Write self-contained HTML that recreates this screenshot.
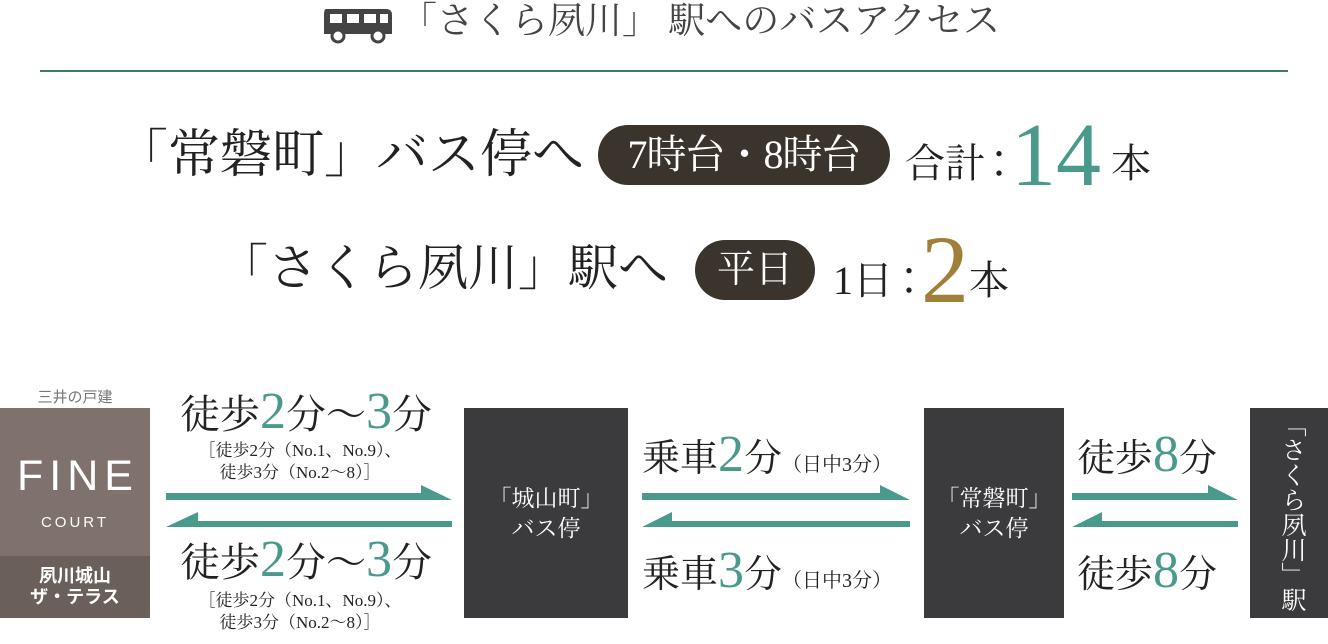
<!DOCTYPE html>
<html><head><meta charset="utf-8"><style>
body{margin:0;width:1328px;height:644px;background:#fff;position:relative;overflow:hidden;font-family:"Liberation Serif","Noto Serif CJK JP","Noto Serif CJK SC",serif;color:#222}
.a{position:absolute;white-space:nowrap}
.t{color:#4a9a8c}
.box{position:absolute;background:#3b3b3d;color:#fff;text-align:center}
</style></head><body>
<svg class="a" style="left:322px;top:6px" width="72" height="38" viewBox="0 0 72 38">
<path d="M4 3 H64 Q70 3 70 9 V28 H2 V9 Q2 3 4 3Z" fill="#444"/>
<rect x="8" y="8" width="12" height="9" fill="#fff"/><rect x="25" y="8" width="12" height="9" fill="#fff"/><rect x="42" y="8" width="12" height="9" fill="#fff"/><rect x="58" y="8" width="8" height="9" fill="#fff"/>
<circle cx="16" cy="30" r="6" fill="#fff" stroke="#444" stroke-width="3"/><circle cx="56" cy="30" r="6" fill="#fff" stroke="#444" stroke-width="3"/></svg>
<div class="a" style="left:400px;top:0px;font-size:37px;color:#444;line-height:44px">「さくら夙川」 駅へのバスアクセス</div>
<div class="a" style="left:40px;top:70px;width:1248px;height:2px;background:#3e7a66"></div>

<div class="a" style="left:116px;top:124px;font-size:52px;line-height:64px">「常磐町」バス停へ</div>
<div class="a" style="left:598px;top:125px;width:292px;height:60px;border-radius:30px;background:#3a342c;color:#fff;font-size:40px;line-height:60px;text-align:center;letter-spacing:-1px">7時台・8時台</div>
<div class="a" style="left:905px;top:124px;font-size:40px;line-height:64px">合計<span style="margin-left:-6px">：</span><span class="t" style="font-size:90px;vertical-align:-8px;margin-left:-8px">14</span> 本</div>

<div class="a" style="left:218px;top:236px;font-size:50px;line-height:64px">「さくら夙川」駅へ</div>
<div class="a" style="left:695px;top:240px;width:120px;height:60px;border-radius:30px;background:#3a342c;color:#fff;font-size:38px;line-height:60px;text-align:center">平日</div>
<div class="a" style="left:833px;top:238px;font-size:40px;line-height:64px">1日<span style="margin-left:-4px">：</span><span style="color:#a08038;font-size:96px;vertical-align:-8px;margin-left:-8px">2</span>本</div>

<div class="a" style="left:0;top:386px;width:150px;text-align:center;font-family:'Liberation Sans','Noto Sans CJK JP',sans-serif;font-size:15px;color:#777">三井の戸建</div>
<div class="a" style="left:0;top:408px;width:150px;height:148px;background:#7f716b;color:#fff;text-align:center;font-family:'Liberation Sans',sans-serif">
<div style="font-size:43px;letter-spacing:6px;margin-top:44px;line-height:48px;padding-left:6px">FINE</div>
<div style="font-size:15px;letter-spacing:3px;margin-top:14px">COURT</div></div>
<div class="a" style="left:0;top:556px;width:150px;height:62px;background:#6a5f5a;color:#fff;text-align:center;font-family:'Liberation Sans','Noto Sans CJK JP',sans-serif;font-size:18px;line-height:21px;padding-top:10px;box-sizing:border-box;font-weight:bold">夙川城山<br>ザ・テラス</div>

<div class="box" style="left:464px;top:408px;width:164px;height:210px;font-size:23px;line-height:30px;padding-top:76px;box-sizing:border-box">「城山町」<br>バス停</div>
<div class="box" style="left:924px;top:408px;width:140px;height:210px;font-size:23px;line-height:30px;padding-top:76px;box-sizing:border-box">「常磐町」<br>バス停</div>
<div class="box" style="left:1250px;top:408px;width:78px;height:210px;font-size:25px;line-height:26px;writing-mode:vertical-rl;padding-right:24px;box-sizing:border-box;text-align:left;padding-top:4px">「さくら夙川」駅</div>

<svg class="a" style="left:0;top:0" width="1328" height="644">
<g fill="#4a9a8c">
<path d="M166 493H421V485L452 500H166Z"/><path d="M452 521H198V512L166 527H452Z"/>
<path d="M642 493H880V485L910 500H642Z"/><path d="M910 521H672V512L642 527H910Z"/>
<path d="M1072 493H1208V485L1238 500H1072Z"/><path d="M1238 521H1102V512L1072 527H1238Z"/>
</g></svg>

<div class="a" style="left:180px;top:385px;font-size:40px;line-height:54px">徒歩<span class="t" style="font-size:52px">2</span>分～<span class="t" style="font-size:52px">3</span>分</div>
<div class="a" style="left:190px;top:440px;font-size:17px;line-height:22px;text-align:center;width:220px">［徒歩2分（No.1、No.9）、<br>徒歩3分（No.2～8）］</div>
<div class="a" style="left:180px;top:533px;font-size:40px;line-height:54px">徒歩<span class="t" style="font-size:52px">2</span>分～<span class="t" style="font-size:52px">3</span>分</div>
<div class="a" style="left:190px;top:590px;font-size:17px;line-height:22px;text-align:center;width:220px">［徒歩2分（No.1、No.9）、<br>徒歩3分（No.2～8）］</div>

<div class="a" style="left:642px;top:428px;font-size:38px;line-height:54px">乗車<span class="t" style="font-size:52px">2</span>分<span style="font-size:20px">（日中3分）</span></div>
<div class="a" style="left:642px;top:544px;font-size:38px;line-height:54px">乗車<span class="t" style="font-size:52px">3</span>分<span style="font-size:20px">（日中3分）</span></div>
<div class="a" style="left:1077px;top:428px;font-size:38px;line-height:54px">徒歩<span class="t" style="font-size:52px">8</span>分</div>
<div class="a" style="left:1077px;top:544px;font-size:38px;line-height:54px">徒歩<span class="t" style="font-size:52px">8</span>分</div>
</body></html>
